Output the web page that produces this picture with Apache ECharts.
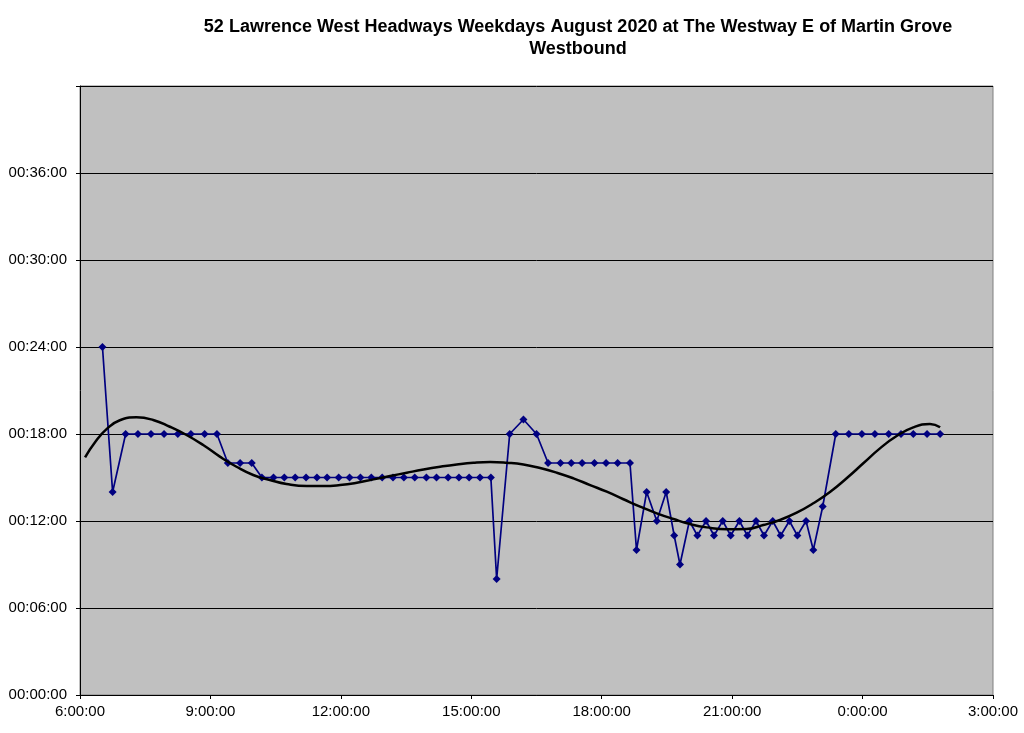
<!DOCTYPE html>
<html><head><meta charset="utf-8">
<script src="https://cdn.jsdelivr.net/npm/echarts@6/dist/echarts.min.js"></script>
<style>html,body{margin:0;padding:0;background:#fff}#c{width:1024px;height:733px}</style>
</head><body><div id="c"></div>
<script>
const titleLines = ["52 Lawrence West Headways Weekdays August 2020 at The Westway E of Martin Grove", "Westbound"];
// departure times (hours past 24 = next day)
const times = ["6:31","6:45","7:03","7:20","7:38","7:56","8:15","8:33","8:52","9:09","9:24","9:41","9:57","10:11","10:27","10:42","10:57","11:12","11:27","11:41","11:57","12:12","12:27","12:42","12:57","13:12","13:27","13:42","13:58","14:12","14:28","14:43","14:57","15:12","15:27","15:35","15:53","16:12","16:30","16:46","17:03","17:18","17:33","17:50","18:06","18:22","18:39","18:48","19:02","19:16","19:29","19:40","19:48","20:01","20:12","20:24","20:35","20:47","20:58","21:10","21:21","21:33","21:44","21:56","22:07","22:19","22:30","22:42","22:52","23:05","23:23","23:41","23:59","24:17","24:36","24:53","25:10","25:29","25:47"];
// headways in minutes
const headways = [24,14,18,18,18,18,18,18,18,18,16,16,16,15,15,15,15,15,15,15,15,15,15,15,15,15,15,15,15,15,15,15,15,15,15,8,18,19,18,16,16,16,16,16,16,16,16,10,14,12,14,11,9,12,11,12,11,12,11,12,11,12,11,12,11,12,11,12,10,13,18,18,18,18,18,18,18,18,18];
// polynomial trend line
const trendTimes = ["6:07","6:21","6:37","6:55","7:18","7:41","8:04","8:27","8:50","9:13","9:36","9:59","10:22","10:45","11:13","11:36","11:59","12:22","12:45","13:08","13:31","13:54","14:17","14:40","15:03","15:26","15:49","16:12","16:35","16:58","17:21","17:44","18:07","18:30","18:53","19:16","19:39","20:02","20:25","20:53","21:20","21:43","22:06","22:29","22:52","23:15","23:38","24:01","24:24","24:47","25:10","25:33","25:47"];
const trendValues = [16.39,17.45,18.35,18.95,19.15,18.97,18.5,17.93,17.24,16.44,15.74,15.17,14.83,14.55,14.41,14.41,14.48,14.64,14.87,15.1,15.33,15.55,15.74,15.9,16.02,16.07,16.02,15.9,15.65,15.33,14.94,14.48,14.02,13.5,12.99,12.53,12.14,11.79,11.56,11.43,11.45,11.72,12.07,12.57,13.22,14.0,14.95,15.98,17.01,17.86,18.46,18.69,18.46];
const xTicks = ["6:00:00","9:00:00","12:00:00","15:00:00","18:00:00","21:00:00","0:00:00","3:00:00"];
const yTicks = ["00:00:00","00:06:00","00:12:00","00:18:00","00:24:00","00:30:00","00:36:00"];

const toMin = s => { const [h,m] = s.split(':').map(Number); return h*60+m; };
const mainData = times.map((t,i)=>[toMin(t), headways[i]]);
const trendData = trendTimes.map((t,i)=>[toMin(t), trendValues[i]]);

const FONT = 'Liberation Sans, Arial, sans-serif';
const chart = echarts.init(document.getElementById('c'), null, {renderer:'canvas'});
chart.setOption({
  backgroundColor:'#fff',
  animation:false,
  title:{
    text: titleLines.join('\n'),
    left: 573, top: 11, textAlign:'center',
    textStyle:{fontFamily:FONT, fontSize:18, fontWeight:'bold', color:'#000', lineHeight:22}
  },
  grid:{left:80, right:31, top:86, bottom:38, show:true, backgroundColor:'#C0C0C0', borderColor:'#808080', borderWidth:1},
  xAxis:{
    type:'value', min:360, max:1620, interval:180,
    axisLine:{show:true, onZero:false, lineStyle:{color:'#000', width:1}},
    axisTick:{show:true, length:4, lineStyle:{color:'#000'}},
    splitLine:{show:false},
    axisLabel:{
      color:'#000', fontFamily:FONT, fontSize:15, margin:9,
      formatter: v => xTicks[Math.round((v-360)/180)] || ''
    }
  },
  yAxis:{
    type:'value', min:0, max:42, interval:6,
    axisLine:{show:true, lineStyle:{color:'#000'}},
    axisTick:{show:true, length:4, lineStyle:{color:'#000'}},
    splitLine:{show:true, lineStyle:{color:'#000', width:1}},
    axisLabel:{
      color:'#000', fontFamily:FONT, fontSize:15, margin:13,
      formatter: v => yTicks[Math.round(v/6)] || ''
    }
  },
  series:[
    {
      type:'line', data: mainData, symbol:'diamond', symbolSize:8, showSymbol:true,
      lineStyle:{color:'#000080', width:1.7}, itemStyle:{color:'#000080'}, z:2
    },
    {
      type:'line', data: trendData, symbol:'none', smooth:0.5,
      lineStyle:{color:'#000', width:2.5}, z:3
    }
  ]
});
</script></body></html>
